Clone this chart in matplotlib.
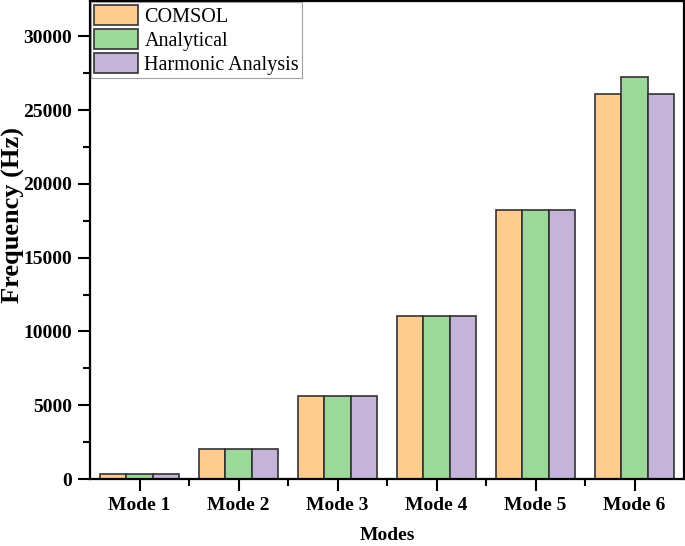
import matplotlib
matplotlib.use("Agg")
import matplotlib.pyplot as plt
import numpy as np
from matplotlib.ticker import MultipleLocator, FixedLocator

categories = ["Mode 1", "Mode 2", "Mode 3", "Mode 4", "Mode 5", "Mode 6"]
comsol = [340, 2020, 5650, 11050, 18200, 26100]
analytical = [340, 2020, 5620, 11020, 18250, 27280]
harmonic = [340, 2020, 5650, 11050, 18200, 26100]
series_names = ["COMSOL", "Analytical", "Harmonic Analysis"]
colors = ["#FFCC90", "#9DD89B", "#C5B4D9"]

plt.rcParams['font.family'] = ['Liberation Serif', 'DejaVu Serif']

fig = plt.figure(figsize=(6.85, 5.46), dpi=100)
ax = fig.add_axes([90/685, 67/546, 594/685, 478/546])

x = np.arange(1, len(categories) + 1)
w = 0.267
for i, (vals, name, c) in enumerate(zip([comsol, analytical, harmonic], series_names, colors)):
    ax.bar(x + (i - 1) * w, vals, width=w, color=c, edgecolor="#333333", linewidth=1.2, label=name)

ax.set_xlim(0.5, 6.5)
ax.set_ylim(0, 32400)
ax.set_xticks(x)
ax.set_xticklabels(categories, fontsize=14, fontweight='bold')
ax.xaxis.set_minor_locator(FixedLocator(np.arange(1.5, 6.5, 1.0)))
ax.yaxis.set_major_locator(MultipleLocator(5000))
ax.yaxis.set_minor_locator(MultipleLocator(2500))
for lab in ax.get_yticklabels():
    lab.set_fontsize(14)
    lab.set_fontweight('bold')
ax.tick_params(which='major', direction='out', length=8.5, width=1.5, pad=4.5)
ax.tick_params(which='minor', direction='out', length=5, width=1.5)
for s in ax.spines.values():
    s.set_linewidth(1.6)

fig.text(387/685, 1 - 536/546, "Modes", fontsize=14, fontweight='bold',
         ha='center', va='center')
fig.text(13/685, 1 - 215/546, "Frequency (Hz)", fontsize=19, fontweight='bold',
         ha='center', va='center', rotation=90)

leg = ax.legend(loc='upper left', fontsize=14.5, frameon=True, fancybox=False,
                edgecolor='#888888', handlelength=2.2, handleheight=1.15,
                labelspacing=0.12, borderpad=0.15, handletextpad=0.3,
                borderaxespad=0.05)
leg.get_frame().set_linewidth(0.8)

fig.savefig("out.png", dpi=100)
